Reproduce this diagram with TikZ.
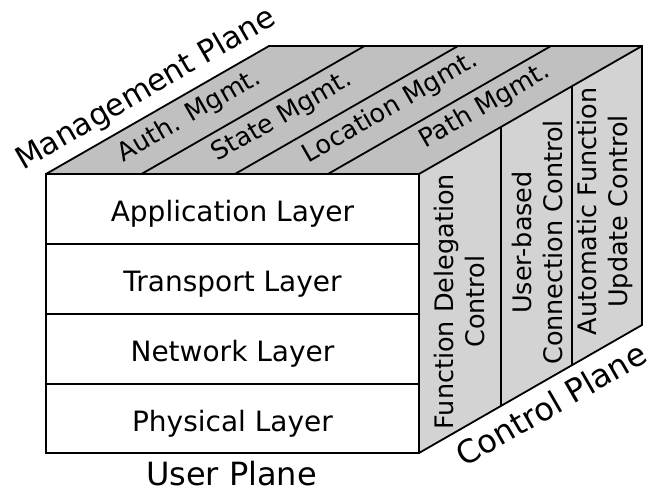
\documentclass[tikz,border=0pt]{standalone}
\usepackage{fontspec}
\setmainfont{DejaVu Sans}
\definecolor{topgray}{RGB}{192,192,192}
\definecolor{sidegray}{RGB}{211,211,211}
\begin{document}
\begin{tikzpicture}[x=1pt,y=-1pt,line width=1.8pt,line join=miter,
  layer/.style={draw,minimum width=373pt,minimum height=70pt,
    inner sep=0pt,text height=25pt,text depth=0pt,font=\fontsize{28}{33}\selectfont},
  strip/.style={rotate=30,anchor=base,inner sep=0pt,font=\fontsize{25.5}{30}\selectfont},
  ctrl/.style={rotate=90,align=center,inner sep=0pt,font=\fontsize{25.5}{31}\selectfont},
  plane/.style={anchor=base,inner sep=0pt,font=\fontsize{32}{38}\selectfont}]
\useasboundingbox (0,0) rectangle (648,494);

% corners of the block
\coordinate (fl) at (46,174);
\coordinate (fr) at (419,174);
\coordinate (br) at (419,453);
\coordinate (tl) at (269,46);
\coordinate (tr) at (642,46);
\coordinate (rb) at (642,325);

% top face (management plane) and side face (control plane)
\fill[topgray] (fl) -- (tl) -- (tr) -- (fr) -- cycle;
\fill[sidegray] (fr) -- (tr) -- (rb) -- (br) -- cycle;

% strips on the top face
\coordinate (t1a) at (141.5,174); \coordinate (t1b) at (364.5,46);
\coordinate (t2a) at (235,174);   \coordinate (t2b) at (458,46);
\coordinate (t3a) at (328,174);   \coordinate (t3b) at (551,46);
\draw (t1a) -- (t1b);
\draw (t2a) -- (t2b);
\draw (t3a) -- (t3b);

% columns on the side face
\coordinate (s1a) at (501,126.9); \coordinate (s1b) at (501,405.9);
\coordinate (s2a) at (572,86.2);  \coordinate (s2b) at (572,365.2);
\draw (s1a) -- (s1b);
\draw (s2a) -- (s2b);

% outline of the block
\draw (fl) -- (tl) -- (tr) -- (rb) -- (br);
\draw (fr) -- (tr);

% user plane layers
\node[layer] (app) at (232.5,209) {Application Layer};
\node[layer] (trn) at (232.5,279) {Transport Layer};
\node[layer] (net) at (232.5,349) {Network Layer};
\node[layer,minimum height=69pt] (phy) at (232.5,418.5) {Physical Layer};

% management functions
\node[strip] (auth) at (193,122.3) {Auth. Mgmt.};
\node[strip] (state) at (285.7,122.8) {State Mgmt.};
\node[strip] (loc) at (394.3,113.8) {Location Mgmt.};
\node[strip] (path) at (488.4,112) {Path Mgmt.};

% control functions
\node[ctrl] (fdc) at (459.5,301.7) {Function Delegation\\Control};
\node[ctrl] (ubc) at (537.4,242.5) {User-based\\Connection Control};
\node[ctrl] (afu) at (605,211.5) {Automatic Function\\Update Control};

% plane names
\node[plane] (up) at (231.5,485) {User Plane};
\node[plane,rotate=30,font=\fontsize{30.5}{36}\selectfont] (mp) at (150.5,96.7) {Management Plane};
\node[plane,rotate=30] (cp) at (557,414.5) {Control Plane};
\end{tikzpicture}
\end{document}
